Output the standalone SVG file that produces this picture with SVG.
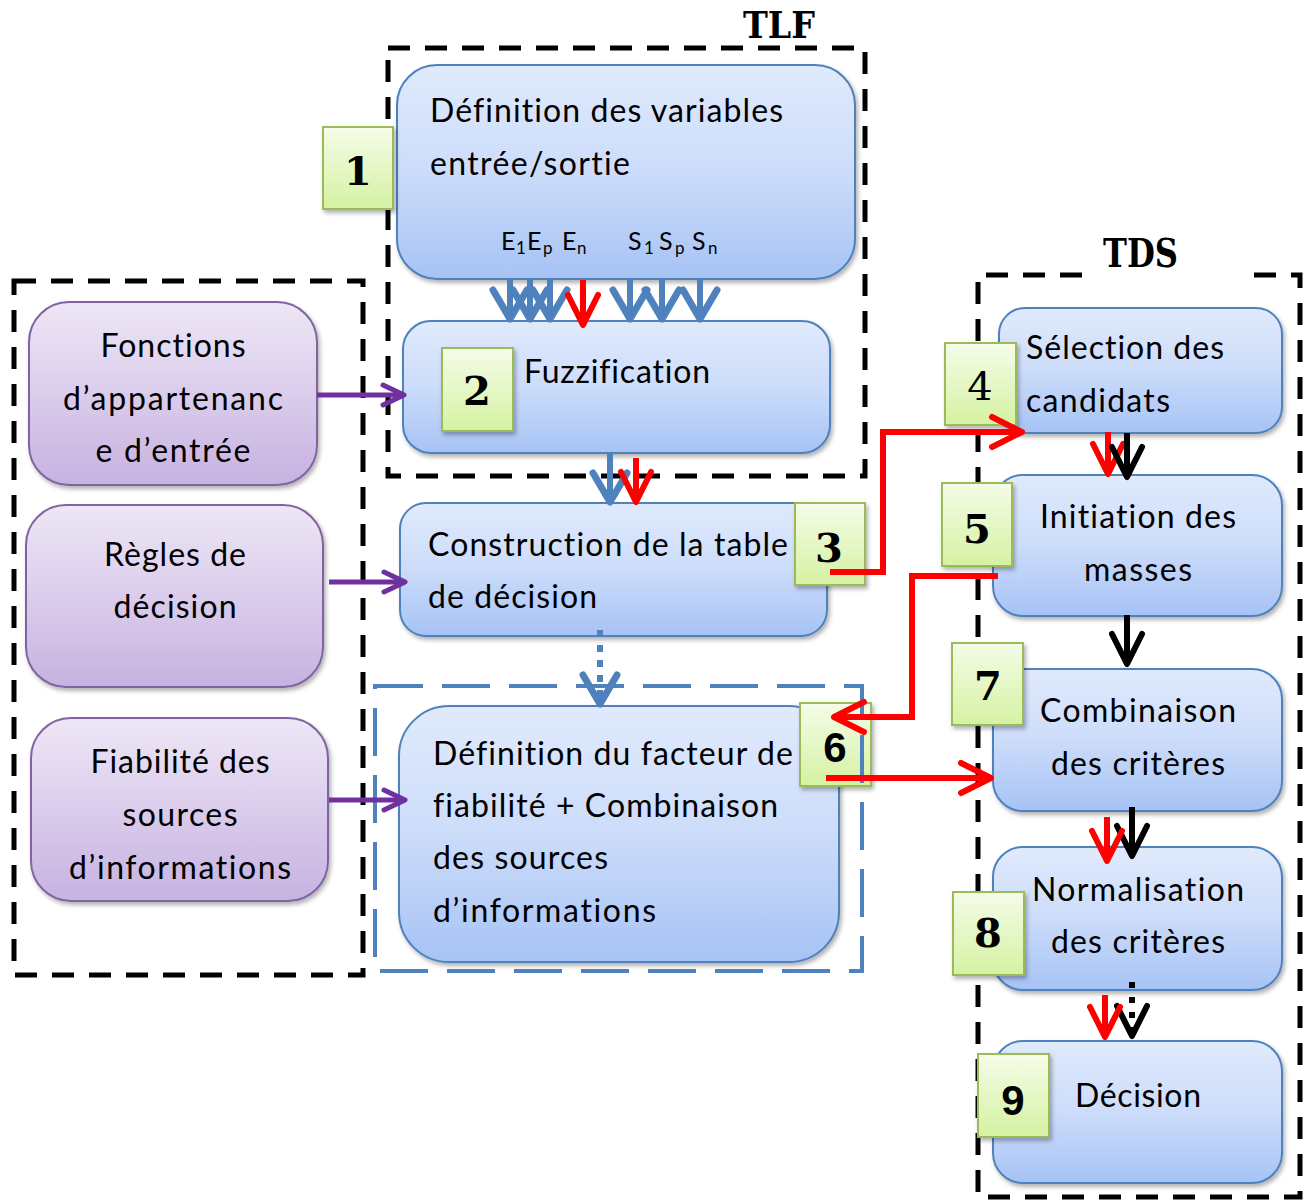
<svg xmlns="http://www.w3.org/2000/svg" width="1303" height="1200" viewBox="0 0 1303 1200">
<style>
.t{font-family:Lato,"Liberation Sans",sans-serif;font-size:32px;fill:#000;font-variant-ligatures:none}
.sub{font-family:Lato,"Liberation Sans",sans-serif;font-size:25px;fill:#000}
.ss{font-size:17px}
.num{font-family:"DejaVu Serif","Liberation Serif",serif;font-weight:bold;font-size:40px;text-anchor:middle;fill:#000}
.nums{font-family:"Liberation Sans",Arial,sans-serif;font-weight:bold;font-size:42px;text-anchor:middle;fill:#000}
.lbl{font-family:"DejaVu Serif","Liberation Serif",serif;font-weight:bold;font-size:38px;fill:#000}
.mid{text-anchor:middle}
.bn{fill:url(#gBlue);stroke:#4f81bd;stroke-width:2;filter:url(#sh)}
.pn{fill:url(#gPurple);stroke:#8064a2;stroke-width:2;filter:url(#sh)}
.gn{fill:url(#gGreen);stroke:#9bbb59;stroke-width:2;filter:url(#sh)}
.blk{fill:none;stroke:#000;stroke-width:5;stroke-dasharray:22 15}
.bdash{fill:none;stroke:#4f81bd;stroke-width:4;stroke-dasharray:48 19}
.ab{fill:none;stroke:#4f81bd;stroke-width:6;marker-end:url(#hBlue)}
.ar{fill:none;stroke:#ff0000;stroke-width:6;stroke-linejoin:miter;marker-end:url(#hRed)}
.ak{fill:none;stroke:#000;stroke-width:6;marker-end:url(#hBlack)}
.ap{fill:none;stroke:#7030a0;stroke-width:5;marker-end:url(#hPurple)}
</style>
<defs>
<linearGradient id="gBlue" x1="0" y1="0" x2="0" y2="1">
<stop offset="0" stop-color="#e0eafc"/><stop offset="0.5" stop-color="#ccdcfa"/><stop offset="1" stop-color="#a6c3f5"/>
</linearGradient>
<linearGradient id="gPurple" x1="0" y1="0" x2="0" y2="1">
<stop offset="0" stop-color="#eee7f6"/><stop offset="1" stop-color="#c7b2e1"/>
</linearGradient>
<linearGradient id="gGreen" x1="0" y1="0" x2="0" y2="1">
<stop offset="0" stop-color="#f5fce8"/><stop offset="1" stop-color="#d5f2a2"/>
</linearGradient>
<filter id="sh" x="-10%" y="-10%" width="130%" height="130%">
<feDropShadow dx="2" dy="3" stdDeviation="2" flood-color="#000" flood-opacity="0.3"/>
</filter>
<marker id="hBlue" markerUnits="userSpaceOnUse" orient="auto" refX="0" refY="0" markerWidth="40" markerHeight="40" style="overflow:visible">
<path d="M-29,-17 L0,0 L-29,17" fill="none" stroke="#4f81bd" stroke-width="7" stroke-linecap="round" stroke-linejoin="round"/>
</marker>
<marker id="hRed" markerUnits="userSpaceOnUse" orient="auto" refX="0" refY="0" markerWidth="40" markerHeight="40" style="overflow:visible">
<path d="M-30,-15 L0,0 L-30,15" fill="none" stroke="#ff0000" stroke-width="6" stroke-linecap="round" stroke-linejoin="round"/>
</marker>
<marker id="hBlack" markerUnits="userSpaceOnUse" orient="auto" refX="0" refY="0" markerWidth="40" markerHeight="40" style="overflow:visible">
<path d="M-30,-15 L0,0 L-30,15" fill="none" stroke="#000" stroke-width="6" stroke-linecap="round" stroke-linejoin="round"/>
</marker>
<marker id="hPurple" markerUnits="userSpaceOnUse" orient="auto" refX="0" refY="0" markerWidth="30" markerHeight="30" style="overflow:visible">
<path d="M-21,-10 L0,0 L-21,10" fill="none" stroke="#7030a0" stroke-width="5" stroke-linecap="round" stroke-linejoin="round"/>
</marker>
</defs>

<g id="containers">
<rect class="blk" x="14" y="281" width="349" height="694"/>
<rect class="blk" x="388" y="48" width="477" height="428"/>
<path class="blk" d="M1082,275 H978 V1197 H1300 V275 H1242"/>
<text class="lbl" x="743" y="38" textLength="72" lengthAdjust="spacingAndGlyphs">TLF</text>
<text class="lbl" x="1103" y="267" textLength="75" lengthAdjust="spacingAndGlyphs" style="font-size:40px">TDS</text>
</g>

<g id="node-fonctions">
<rect class="pn" x="29" y="302" width="288" height="183" rx="40"/>
<text class="t mid" x="173" y="357" textLength="145">Fonctions</text>
<text class="t mid" x="173" y="410" textLength="220">d’appartenanc</text>
<text class="t mid" x="173" y="462" textLength="155">e d’entrée</text>
</g>
<g id="node-regles">
<rect class="pn" x="26" y="505" width="297" height="182" rx="40"/>
<text class="t mid" x="175" y="566" textLength="142">Règles de</text>
<text class="t mid" x="175" y="618" textLength="123">décision</text>
</g>
<g id="node-fiabilite">
<rect class="pn" x="31" y="718" width="297" height="183" rx="40"/>
<text class="t mid" x="180" y="773" textLength="179">Fiabilité des</text>
<text class="t mid" x="180" y="826" textLength="115">sources</text>
<text class="t mid" x="180" y="879" textLength="222">d’informations</text>
</g>

<g id="node-1">
<rect class="bn" x="397" y="65" width="458" height="214" rx="40"/>
<text class="t" x="430" y="122" textLength="353">Définition des variables</text>
<text class="t" x="430" y="175" textLength="200">entrée/sortie</text>
<text class="sub" y="250"><tspan x="501">E</tspan><tspan class="ss" x="516" y="254">1</tspan><tspan x="527" y="250">E</tspan><tspan class="ss" x="543" y="254">p</tspan><tspan x="562" y="250">E</tspan><tspan class="ss" x="577" y="254">n</tspan><tspan x="628" y="250">S</tspan><tspan class="ss" x="644" y="254">1</tspan><tspan x="659" y="250">S</tspan><tspan class="ss" x="675" y="254">p</tspan><tspan x="692" y="250">S</tspan><tspan class="ss" x="708" y="254">n</tspan></text>
</g>
<g id="node-2">
<rect class="bn" x="403" y="321" width="427" height="132" rx="28"/>
<text class="t" x="524" y="383" textLength="186">Fuzzification</text>
</g>
<g id="node-3">
<rect class="bn" x="400" y="503" width="427" height="133" rx="26"/>
<text class="t" x="428" y="556" textLength="360">Construction de la table</text>
<text class="t" x="428" y="608" textLength="169">de décision</text>
</g>
<g id="node-6">
<rect class="bn" x="399" y="706" width="440" height="256" rx="50"/>
<text class="t" x="433" y="765" textLength="360">Définition du facteur de</text>
<text class="t" x="433" y="817" textLength="345">fiabilité + Combinaison</text>
<text class="t" x="433" y="869" textLength="175">des sources</text>
<text class="t" x="433" y="922" textLength="223">d’informations</text>
</g>
<g id="node-4">
<rect class="bn" x="999" y="308" width="283" height="125" rx="26"/>
<text class="t" x="1026" y="359" textLength="198">Sélection des</text>
<text class="t" x="1026" y="412" textLength="144">candidats</text>
</g>
<g id="node-5">
<rect class="bn" x="993" y="475" width="289" height="141" rx="30"/>
<text class="t mid" x="1138" y="528" textLength="196">Initiation des</text>
<text class="t mid" x="1138" y="581" textLength="108">masses</text>
</g>
<g id="node-7">
<rect class="bn" x="993" y="669" width="289" height="142" rx="30"/>
<text class="t mid" x="1138" y="722" textLength="196">Combinaison</text>
<text class="t mid" x="1138" y="775" textLength="174">des critères</text>
</g>
<g id="node-8">
<rect class="bn" x="993" y="847" width="289" height="143" rx="30"/>
<text class="t mid" x="1138" y="901" textLength="212">Normalisation</text>
<text class="t mid" x="1138" y="953" textLength="174">des critères</text>
</g>
<g id="node-9">
<rect class="bn" x="993" y="1041" width="289" height="142" rx="30"/>
<text class="t mid" x="1138" y="1107" textLength="126">Décision</text>
</g>

<g id="badge-1"><rect class="gn" x="323" y="127" width="70" height="82"/><text class="num" x="358" y="185">1</text></g>
<g id="badge-2"><rect class="gn" x="442" y="348" width="71" height="83"/><text class="num" x="477" y="405">2</text></g>
<g id="badge-3"><rect class="gn" x="795" y="503" width="70" height="82"/><text class="num" x="829" y="562">3</text></g>
<g id="badge-4"><rect class="gn" x="945" y="343" width="71" height="82"/><text class="num" x="980" y="400" style="font-weight:normal">4</text></g>
<g id="badge-5"><rect class="gn" x="942" y="483" width="70" height="83"/><text class="num" x="977" y="543">5</text></g>
<g id="badge-6"><rect class="gn" x="800" y="703" width="71" height="83"/><text class="nums" x="835" y="762">6</text></g>
<g id="badge-7"><rect class="gn" x="952" y="643" width="71" height="82"/><text class="num" x="988" y="700">7</text></g>
<g id="badge-8"><rect class="gn" x="953" y="892" width="71" height="83"/><text class="num" x="988" y="947">8</text></g>
<g id="badge-9"><rect class="gn" x="978" y="1054" width="71" height="83"/><text class="nums" x="1013" y="1115">9</text></g>

<g id="container-6">
<rect class="bdash" x="375" y="686" width="487" height="285"/>
</g>

<g id="connectors">
<line class="ap" x1="317" y1="395" x2="404" y2="395"/>
<line class="ap" x1="329" y1="582" x2="405" y2="582"/>
<line class="ap" x1="329" y1="800" x2="405" y2="800"/>
<line class="ab" x1="510" y1="280" x2="510" y2="319"/>
<line class="ab" x1="530" y1="280" x2="530" y2="319"/>
<line class="ab" x1="550" y1="280" x2="550" y2="319"/>
<line class="ab" x1="630" y1="280" x2="630" y2="319"/>
<line class="ab" x1="662" y1="280" x2="662" y2="319"/>
<line class="ab" x1="700" y1="280" x2="700" y2="319"/>
<line class="ar" x1="583" y1="280" x2="583" y2="325"/>
<line class="ab" x1="610" y1="453" x2="610" y2="502"/>
<line class="ar" x1="636" y1="458" x2="636" y2="502"/>
<line class="ab" x1="600" y1="630" x2="600" y2="704" style="stroke-dasharray:7 8"/>
<path class="ar" d="M830,572 H883 V432 H1022"/>
<path class="ar" d="M998,576 H912 V717 H834"/>
<path class="ar" d="M826,778 H991"/>
<line class="ar" x1="1108" y1="432" x2="1108" y2="474"/>
<line class="ak" x1="1127" y1="433" x2="1127" y2="477"/>
<line class="ak" x1="1127" y1="615" x2="1127" y2="664"/>
<line class="ak" x1="1132" y1="807" x2="1132" y2="856"/>
<line class="ar" x1="1107" y1="817" x2="1107" y2="861"/>
<line class="ak" x1="1132" y1="982" x2="1132" y2="1036" style="stroke-dasharray:6 9"/>
<line class="ar" x1="1105" y1="995" x2="1105" y2="1037"/>
</g>
</svg>
